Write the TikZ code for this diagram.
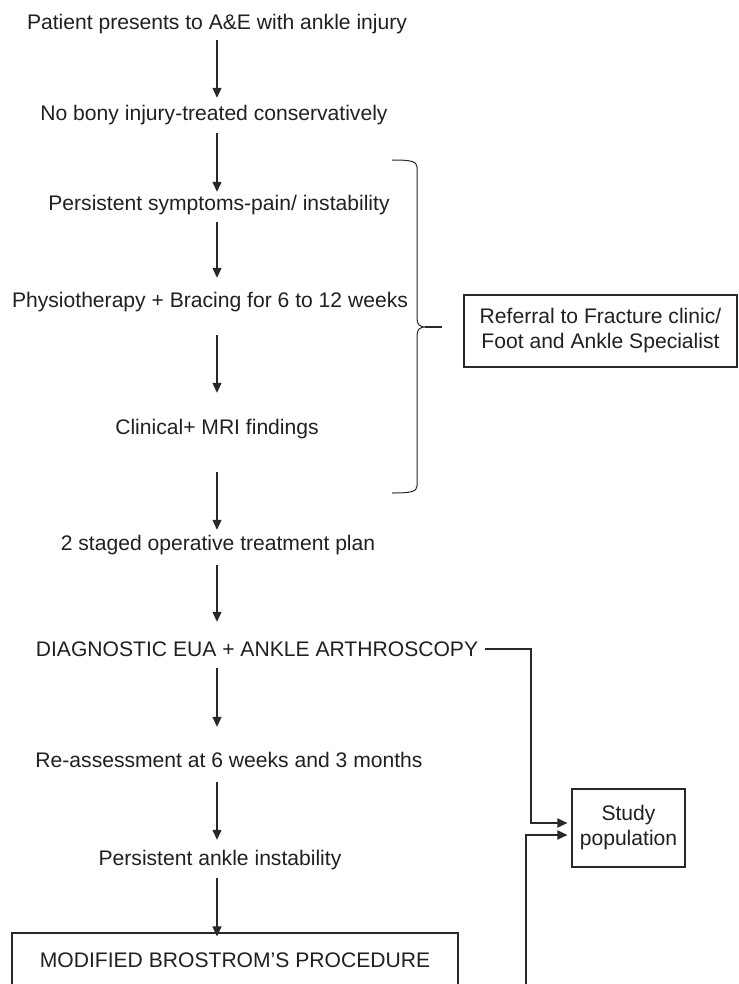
\documentclass[tikz,border=0pt]{standalone}
\usepackage{fontspec}
\setmainfont{Liberation Sans}
\usetikzlibrary{arrows.meta}
\definecolor{ink}{RGB}{35,31,32}
\definecolor{lin}{RGB}{40,40,40}
\tikzset{
  txt/.style={inner sep=0pt, text height=15pt, text depth=0pt, font=\fontsize{21.1}{24}\selectfont, text=ink},
  boxtxt/.style={font=\fontsize{21.1}{25}\selectfont, text=ink, align=center},
  frame/.style={draw=lin, line width=1.1pt},
  arr/.style={draw=lin, line width=1.2pt, -{Triangle[length=10pt,width=9pt]}},
  elb/.style={draw=lin, line width=1.8pt, -{Triangle[length=10pt,width=9pt]}},
  brc/.style={draw=lin, line width=1pt}
}
\begin{document}
\begin{tikzpicture}[x=1pt,y=-1pt]
\useasboundingbox (0,0) rectangle (738,984);
\coordinate (ax) at (217,0);
% main column
\node[txt] (t1) at (217,22) {Patient presents to A\&E with ankle injury};
\node[txt] (t2) at (214,113) {No bony injury-treated conservatively};
\node[txt] (t3) at (219,203) {Persistent symptoms-pain/ instability};
\node[txt] (t4) at (210,300) {Physiotherapy + Bracing for 6 to 12 weeks};
\node[txt] (t5) at (217,427) {Clinical+ MRI findings};
\node[txt] (t6) at (218,543) {2 staged operative treatment plan};
\node[txt] (t7) at (257,649) {DIAGNOSTIC EUA + ANKLE ARTHROSCOPY};
\node[txt] (t8) at (229,760) {Re-assessment at 6 weeks and 3 months};
\node[txt] (t9) at (220,858) {Persistent ankle instability};
% bottom box (runs past the lower edge)
\node[frame, minimum width=446pt, minimum height=100pt, inner sep=0pt] (mb) at (235,983) {};
\node[txt] (mbt) at (235,960) {MODIFIED BROSTROM’S PROCEDURE};
% right boxes
\node[frame, boxtxt, minimum width=273pt, minimum height=72pt, inner sep=0pt] (ref) at (600.5,331) {Referral to Fracture clinic/\\Foot and Ankle Specialist};
\node[frame, boxtxt, minimum width=113pt, minimum height=78pt, inner sep=0pt] (sp) at (628.5,828) {Study\\population};
% vertical arrows
\draw[arr, shorten <=10.5pt, shorten >=7.5pt] (t1.south -| ax) -- (t2.north -| ax);
\draw[arr, shorten <=12.5pt, shorten >=3.5pt] (t2.south -| ax) -- (t3.north -| ax);
\draw[arr, shorten <=11.5pt, shorten >=14.5pt] (t3.south -| ax) -- (t4.north -| ax);
\draw[arr, shorten <=27.5pt, shorten >=26.5pt] (t4.south -| ax) -- (t5.north -| ax);
\draw[arr, shorten <=37.5pt, shorten >=5.5pt] (t5.south -| ax) -- (t6.north -| ax);
\draw[arr, shorten <=14.5pt, shorten >=19.5pt] (t6.south -| ax) -- (t7.north -| ax);
\draw[arr, shorten <=11.5pt, shorten >=25.5pt] (t7.south -| ax) -- (t8.north -| ax);
\draw[arr, shorten <=14.5pt, shorten >=10.5pt] (t8.south -| ax) -- (t9.north -| ax);
\draw[arr, shorten <=12.5pt, shorten >=-4pt] (t9.south -| ax) -- (mb.north -| ax);
% brace
\coordinate (bt) at (442,327);
\draw[brc] (392,160) .. controls (410,160) and (417,161) .. (417,167) -- (417,318)
  .. controls (417,324) and (419,327) .. (426,327)
  .. controls (419,327) and (417,330) .. (417,336) -- (417,486)
  .. controls (417,492) and (410,493) .. (392,493);
\draw[brc, line width=1.5pt] (425,327) -- (bt);
% elbow connectors to the study population
\coordinate (k1) at (524,0);
\coordinate (k2) at (526,990);
\draw[elb, shorten >=4pt] ([xshift=7pt]t7.east) -- ([xshift=7pt]t7.east -| k1) |- ([yshift=5pt]sp.west);
\draw[elb, shorten >=4pt] (k2) |- ([yshift=-7pt]sp.west);
\end{tikzpicture}
\end{document}
